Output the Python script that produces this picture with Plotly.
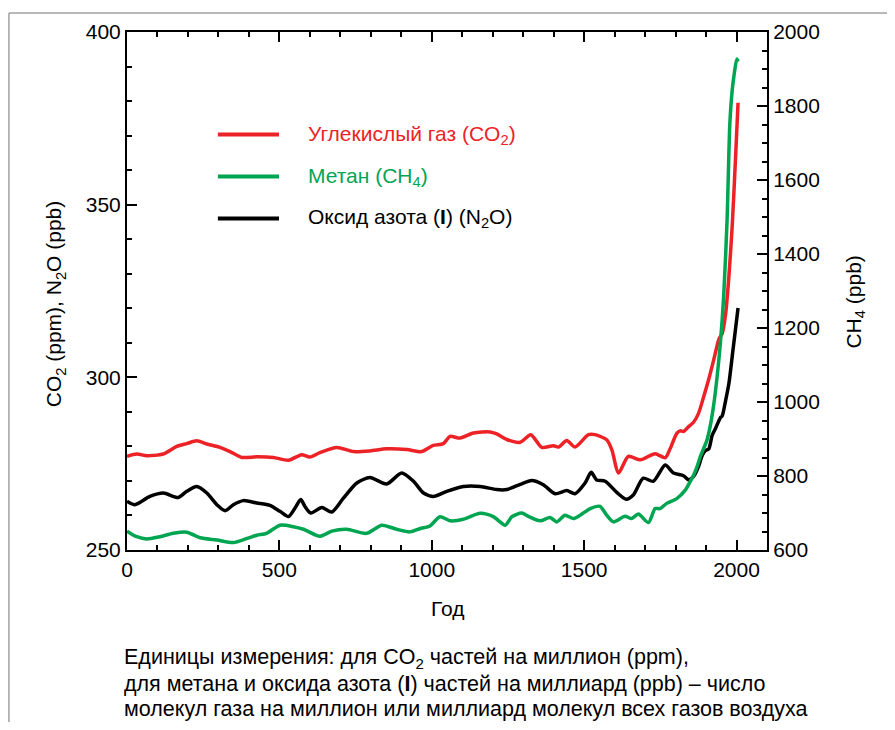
import plotly.graph_objects as go

# --------------------------------------------------------------------------
# Data
# --------------------------------------------------------------------------
co2_years = [0, 32, 65, 119, 163, 196, 229, 262, 305, 338, 376, 426, 480, 530, 573,
             600, 633, 688, 743, 797, 852, 918, 967, 1005, 1038, 1060, 1093, 1137,
             1191, 1213, 1246, 1290, 1325, 1361, 1399, 1416, 1443, 1470, 1514, 1536,
             1574, 1591, 1613, 1645, 1684, 1733, 1766, 1782, 1804, 1815, 1826, 1840,
             1859, 1875, 1891, 1909, 1925, 1942, 1953, 1964, 1975, 1986, 1997, 2005]
co2_ppm = [277.1, 277.8, 277.3, 277.8, 280.0, 280.8, 281.6, 280.7, 279.7, 278.5, 276.8,
           277.0, 276.8, 276.0, 277.6, 276.9, 278.2, 279.7, 278.5, 278.7, 279.3, 279.1,
           278.5, 280.3, 280.8, 282.9, 282.4, 283.9, 284.2, 283.6, 282.0, 281.2, 283.4,
           279.7, 280.2, 279.8, 281.7, 279.8, 283.4, 283.4, 281.9, 279.0, 272.3, 277.1,
           276.1, 277.9, 276.7, 279.3, 283.8, 284.5, 284.3, 285.5, 287.0, 289.5, 294.0,
           299.5, 305.0, 311.0, 312.7, 318.2, 329.2, 344.1, 364.0, 379.5]

ch4_years = [0, 32, 65, 108, 152, 196, 240, 295, 349, 393, 426, 458, 502, 546, 579,
             633, 672, 721, 786, 836, 885, 929, 962, 994, 1027, 1060, 1104, 1159, 1202,
             1241, 1263, 1295, 1317, 1356, 1388, 1410, 1437, 1465, 1487, 1520, 1552,
             1574, 1596, 1634, 1656, 1678, 1711, 1733, 1749, 1771, 1804, 1831, 1848,
             1859, 1870, 1881, 1903, 1914, 1925, 1936, 1947, 1958, 1969, 1978, 1986,
             1993, 2001, 2005]
ch4_ppb = [651, 636, 630, 636, 645, 648, 633, 627, 620, 631, 640, 645, 667, 663, 656,
           637, 651, 656, 645, 667, 656, 649, 658, 665, 690, 679, 683, 699, 690, 667,
           690, 700, 691, 679, 688, 676, 694, 685, 694, 712, 718, 694, 676, 691, 685,
           697, 674, 712, 712, 726, 739, 761, 785, 802, 824, 852, 897, 936, 992, 1066,
           1159, 1288, 1492, 1751, 1844, 1890, 1927, 1920]

n2o_years = [0, 26, 75, 119, 168, 196, 229, 262, 295, 322, 349, 382, 426, 469, 502,
             530, 551, 570, 584, 603, 639, 672, 710, 754, 797, 852, 901, 940, 973,
             1005, 1049, 1104, 1159, 1213, 1246, 1290, 1328, 1366, 1405, 1443, 1470,
             1503, 1523, 1541, 1569, 1607, 1638, 1662, 1694, 1727, 1766, 1793, 1826,
             1843, 1859, 1876, 1887, 1898, 1909, 1920, 1931, 1947, 1953, 1964, 1975,
             1986, 1997, 2005]
n2o_ppb = [264.1, 263.1, 265.5, 266.5, 265.2, 267.0, 268.4, 266.5, 263.1, 261.4, 263.1,
           264.3, 263.6, 262.9, 261.2, 259.7, 262.1, 264.6, 262.6, 260.7, 262.3, 261.0,
           265.0, 269.4, 271.0, 269.1, 272.3, 269.9, 266.5, 265.5, 267.0, 268.4, 268.4,
           267.5, 267.5, 269.0, 270.1, 268.9, 266.3, 267.2, 266.3, 269.4, 272.5, 270.3,
           269.9, 266.7, 264.7, 266.0, 270.8, 269.9, 274.6, 272.3, 271.5, 270.3, 271.3,
           274.3, 277.3, 278.8, 279.3, 283.2, 285.2, 288.3, 288.8, 293.2, 298.2, 306.2,
           314.2, 320.1]

legend_labels = ["Углекислый газ (CO<sub>2</sub>)", "Метан (CH<sub>4</sub>)",
                 "Оксид азота (<b>I</b>) (N<sub>2</sub>O)"]
caption_lines = ["Единицы измерения: для CO<sub>2</sub> частей на миллион (ppm),",
                 "для метана и оксида азота (<b>I</b>) частей на миллиард (ppb) – число",
                 "молекул газа на миллион или миллиард молекул всех газов воздуха"]

RED = "#ec2227"
GREEN = "#00a551"
BLACK = "#000000"
FONT = "Liberation Sans, Arial, sans-serif"

# --------------------------------------------------------------------------
# Figure (page body has an 8px margin, keep the figure small enough to not scroll)
# --------------------------------------------------------------------------
fig = go.Figure()
line_kw = dict(shape="spline", smoothing=0.7, width=3.5)
fig.add_trace(go.Scatter(x=co2_years, y=co2_ppm, mode="lines",
                         line=dict(color=RED, **line_kw), yaxis="y"))
fig.add_trace(go.Scatter(x=n2o_years, y=n2o_ppb, mode="lines",
                         line=dict(color=BLACK, **line_kw), yaxis="y"))
fig.add_trace(go.Scatter(x=ch4_years, y=ch4_ppb, mode="lines",
                         line=dict(color=GREEN, **line_kw), yaxis="y2"))

axis_common = dict(showline=True, linecolor="black", linewidth=2, showgrid=False,
                   zeroline=False, ticks="inside", tickcolor="black", tickwidth=1.5,
                   ticklen=10, tickfont=dict(size=21, color="black", family=FONT))

fig.update_layout(
    width=879, height=714,
    margin=dict(l=119, r=120, t=22, b=172),
    paper_bgcolor="white", plot_bgcolor="white",
    showlegend=False,
    font=dict(family=FONT, color="black"),
    xaxis=dict(range=[0, 2100], tickvals=[0, 500, 1000, 1500, 2000], mirror="ticks",
               minor=dict(dtick=100, ticks="inside", ticklen=5, tickcolor="black"),
               **axis_common),
    yaxis=dict(range=[250, 400], dtick=50,
               minor=dict(dtick=10, ticks="inside", ticklen=5, tickcolor="black"),
               **axis_common),
    yaxis2=dict(range=[600, 2000], dtick=200, overlaying="y", side="right",
                minor=dict(dtick=50, ticks="inside", ticklen=5, tickcolor="black"),
                **axis_common),
)

# outer grey frame: only its top and left edges fall inside the picture
frame = dict(color="#a0a0a0", width=1.5)
fig.add_shape(type="line", xref="paper", yref="paper", x0=-0.1845, x1=1.2,
              y0=1.0365, y1=1.0365, line=frame, layer="below")
fig.add_shape(type="line", xref="paper", yref="paper", x0=-0.1845, x1=-0.1845,
              y0=1.0365, y1=-0.35, line=frame, layer="below")

# legend drawn by hand (long keys, coloured labels)
for label, color, yk in zip(legend_labels, [RED, GREEN, BLACK], [0.802, 0.721, 0.640]):
    fig.add_shape(type="line", xref="paper", yref="paper", x0=0.142, x1=0.2375,
                  y0=yk, y1=yk, line=dict(color=color, width=4))
    fig.add_annotation(xref="paper", yref="paper", x=0.279, y=yk, text=label,
                       showarrow=False, xanchor="left", yanchor="middle",
                       font=dict(size=21, color=color))

# axis titles
fig.add_annotation(xref="paper", yref="paper", x=0.5, y=-0.112, text="Год",
                   showarrow=False, xanchor="center", yanchor="middle",
                   font=dict(size=21))
fig.add_annotation(xref="paper", yref="paper", x=-0.112, y=0.475,
                   text="CO<sub>2</sub> (ppm), N<sub>2</sub>O (ppb)", textangle=-90,
                   showarrow=False, xanchor="center", yanchor="middle",
                   font=dict(size=21))
fig.add_annotation(xref="paper", yref="paper", x=1.137, y=0.479,
                   text="CH<sub>4</sub> (ppb)", textangle=-90,
                   showarrow=False, xanchor="center", yanchor="middle",
                   font=dict(size=21))

# caption, one annotation per line
for i, line in enumerate(caption_lines):
    fig.add_annotation(xref="paper", yref="paper", x=-0.0078, y=-0.2095 - i * 0.049,
                       text=line, showarrow=False, xanchor="left", yanchor="middle",
                       align="left", font=dict(size=21.5))

fig.write_html("out.html")
